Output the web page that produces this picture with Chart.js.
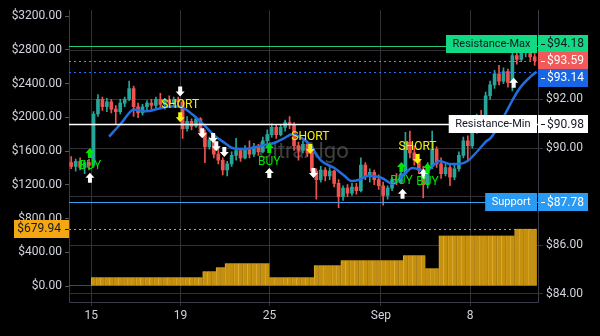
<!DOCTYPE html>
<html>
<head>
<meta charset="utf-8">
<script src="https://cdn.jsdelivr.net/npm/chart.js@4.4.1/dist/chart.umd.min.js"></script>
<style>
  html, body { margin: 0; padding: 0; background: #000; }
  #wrap { width: 600px; height: 336px; }
</style>
</head>
<body>
<div id="wrap"><canvas id="chart" width="600" height="336"></canvas></div>
<script>
// x is measured in trading days, 0 = Aug 12 open, 5 candles per day
const dayTicks = [1, 5, 9, 14, 18];
const dayLabels = ['15', '19', '25', 'Sep', '8'];
const barsPerDay = 5;

const opens = [89.40,89.25,89.45,89.20,89.40, 89.30,91.40,92.00,91.70,91.90, 91.60,91.50,91.85,92.00,92.45,
  91.70,91.45,91.70,91.85,91.75, 92.00,91.80,91.95,91.85,92.00, 91.90,90.80,91.10,90.90,91.20,
  90.65,90.05,90.35,89.75,89.50, 89.10,89.35,89.70,89.90,89.60, 89.95,89.75,90.05,89.85,90.30,
  90.55,90.85,90.55,90.85,91.05, 90.95,90.10,89.90,90.15,89.80, 89.05,88.70,89.10,88.85,89.05,
  88.55,88.00,88.35,88.15,88.40, 88.25,89.30,88.85,89.00,88.70, 88.45,88.05,88.35,88.70,88.60,
  88.95,90.25,89.80,89.50,89.10, 88.50,89.25,89.95,89.35,88.95, 89.20,88.80,89.15,89.70,90.30,
  90.10,90.75,91.25,91.10,92.15, 92.60,93.05,92.75,93.15,92.70, 93.80,93.65,93.95,94.10,93.75];
const highs = [89.65,89.55,89.60,89.50,89.55, 91.50,92.20,92.10,92.05,92.00, 91.75,92.00,92.10,92.75,92.55,
  91.85,91.80,91.95,92.00,92.10, 92.25,92.05,92.15,92.10,92.10, 91.95,91.30,91.20,91.30,91.25,
  90.75,90.45,90.40,89.95,89.60, 89.45,89.85,90.40,90.00,90.10, 90.30,90.20,90.15,90.45,90.75,
  91.00,90.95,90.95,91.15,91.30, 91.05,90.25,90.30,90.25,89.90, 89.15,89.25,89.20,89.20,89.10,
  88.70,88.45,88.50,88.55,88.55, 89.60,89.40,89.15,89.10,88.90, 88.60,88.45,88.80,88.95,89.10,
  90.65,90.70,90.10,89.75,89.25, 89.40,90.70,90.05,89.60,89.35, 89.30,89.30,89.85,90.45,90.50,
  90.90,91.40,91.55,92.30,92.75, 93.20,93.40,93.30,93.25,93.95, 94.05,94.10,94.24,94.15,93.95];
const lows = [89.15,89.05,89.10,88.95,89.10, 89.20,91.30,91.55,91.50,91.45, 91.00,91.40,91.70,91.95,91.30,
  91.25,91.35,91.55,91.60,91.65, 91.70,91.60,91.75,91.70,91.75, 90.40,90.70,90.75,90.85,90.50,
  89.40,89.95,89.60,89.35,88.90, 88.85,89.25,89.50,89.45,89.55, 89.60,89.65,89.70,89.80,90.15,
  90.45,90.40,90.50,90.70,90.80, 89.90,89.50,89.80,89.65,88.90, 87.90,88.60,88.65,88.70,88.40,
  87.55,87.85,88.00,88.05,88.10, 88.20,88.70,88.60,88.50,88.30, 87.65,87.90,88.25,88.50,88.55,
  88.90,89.60,89.30,88.95,87.95, 88.35,89.15,89.20,88.75,88.85, 88.45,88.70,89.05,89.60,89.45,
  90.00,90.60,90.95,91.05,92.00, 92.45,92.60,92.65,92.50,92.35, 93.45,93.55,93.75,93.60,93.40];
const closes = [89.25,89.45,89.20,89.40,89.30, 91.40,92.00,91.70,91.90,91.60, 91.50,91.85,92.00,92.45,91.70,
  91.45,91.70,91.85,91.75,92.00, 91.80,91.95,91.85,92.00,91.90, 90.80,91.10,90.90,91.20,90.65,
  90.05,90.35,89.75,89.50,89.10, 89.35,89.70,89.90,89.60,89.95, 89.75,90.05,89.85,90.30,90.55,
  90.85,90.55,90.85,91.05,90.95, 90.10,89.90,90.15,89.80,89.05, 88.70,89.10,88.85,89.05,88.55,
  88.00,88.35,88.15,88.40,88.25, 89.30,88.85,89.00,88.70,88.45, 88.05,88.35,88.70,88.60,88.95,
  90.25,89.80,89.50,89.10,88.50, 89.25,89.95,89.35,88.95,89.20, 88.80,89.15,89.70,90.30,90.10,
  90.75,91.25,91.10,92.15,92.60, 93.05,92.75,93.15,92.70,93.80, 93.65,93.95,94.10,93.75,93.59];

// blue moving average
const maTimes = [1.80, 2.34, 2.92, 3.46, 4.04, 4.49, 4.94, 5.53, 6.11, 6.56, 7.01, 7.33, 7.87, 8.54,
  9.17, 9.66, 10.02, 10.52, 10.79, 11.33, 11.91, 12.36, 12.67, 13.03, 13.44, 14.02, 14.52, 14.97,
  15.42, 16.04, 16.63, 17.08, 17.53, 17.89, 18.34, 18.74, 18.92, 19.33, 19.78, 20.22, 20.67, 20.99];
const maValues = [90.47, 91.02, 91.59, 91.51, 91.63, 91.71, 91.71, 91.39, 90.90, 90.49, 90.20, 90.00, 89.96, 90.08,
  90.20, 90.41, 90.57, 90.37, 90.16, 89.47, 89.18, 88.86, 88.65, 88.70, 88.86, 88.78, 88.53, 88.86,
  89.18, 89.06, 89.47, 89.35, 89.35, 89.47, 89.88, 90.29, 90.41, 90.98, 91.76, 92.45, 92.90, 93.14];

// orange step histogram on the left scale
const histStarts = [0, 1, 6, 6.6, 7, 9, 11, 12.2, 15, 16, 16.6, 20];
const histValues = [10, 106, 176, 224, 270, 106, 247, 306, 365, 212, 600, 679.94];

const resistanceMax = 94.18;
const resistanceMin = 90.98;
const supportLevel = 87.78;

// signals
const buyTimes = [0.94, 8.99, 14.92, 16.09];
const buyPrices = [89.80, 90.00, 89.22, 89.18];
const shortTimes = [4.99, 10.83, 15.64];
const shortPrices = [91.27, 89.96, 89.55];
const upTimes = [0.94, 8.99, 14.97, 15.91, 19.96];
const upPrices = [88.78, 88.98, 88.12, 88.94, 92.69];
const downTimes = [4.99, 5.98, 6.47, 6.61, 6.97, 10.97];
const downPrices = [92.33, 90.61, 90.41, 90.08, 89.84, 88.98];

const leftTicks = [0, 400, 800, 1200, 1600, 2000, 2400, 2800, 3200];
const rightTicks = [84, 86, 88, 90, 92, 94];

const UP = '#26a69a', DOWN = '#ef5350';
const FONT = 'Roboto, "Liberation Sans", sans-serif';

const candleTime = i => (i + 0.5) / barsPerDay;
const candleColors = closes.map((c, i) => c >= opens[i] ? UP : DOWN);
const wickData = closes.map((c, i) => ({ x: candleTime(i), y: [lows[i], highs[i]] }));
const bodyData = closes.map((c, i) => ({ x: candleTime(i), y: [Math.min(opens[i], c), Math.max(opens[i], c)] }));
const histData = closes.map((c, i) => {
  const t = candleTime(i);
  let v = histValues[0];
  histStarts.forEach((s, k) => { if (t >= s) v = histValues[k]; });
  return { x: t, y: v };
});
const maData = maTimes.map((t, i) => ({ x: t, y: maValues[i] }));
const lastPrice = closes[closes.length - 1];
const lastMa = maValues[maValues.length - 1];
const tagValues = [resistanceMax, lastPrice, lastMa, resistanceMin, supportLevel];

function arrow(ctx, x, y, dir, color) {
  // dir 1 = up, -1 = down; centred on x,y, 10px tall
  ctx.fillStyle = color;
  ctx.beginPath();
  ctx.moveTo(x, y - 5 * dir);
  ctx.lineTo(x + 4.5, y);
  ctx.lineTo(x + 2, y);
  ctx.lineTo(x + 2, y + 5 * dir);
  ctx.lineTo(x - 2, y + 5 * dir);
  ctx.lineTo(x - 2, y);
  ctx.lineTo(x - 4.5, y);
  ctx.closePath();
  ctx.fill();
}

function box(ctx, x, y, w, h, bg, fg, text, align, tx) {
  ctx.fillStyle = bg;
  ctx.fillRect(x, Math.round(y - h / 2), w, h);
  ctx.fillStyle = fg;
  ctx.textAlign = align;
  ctx.fillText(text, tx, y + 0.5);
}

const overlay = {
  id: 'overlay',
  beforeDatasetsDraw(chart) {
    const { ctx, chartArea: a } = chart;
    ctx.save();
    ctx.font = '22px ' + FONT;
    ctx.fillStyle = 'rgba(115,115,115,0.55)';
    ctx.textAlign = 'center';
    ctx.textBaseline = 'middle';
    ctx.fillText('UltraAlgo', (a.left + a.right) / 2, (a.top + a.bottom) / 2 - 4);
    ctx.restore();
  },
  afterDatasetsDraw(chart) {
    const { ctx, chartArea: a, scales } = chart;
    const x = scales.x, yR = scales.yR, yL = scales.yL;
    ctx.save();
    ctx.beginPath();
    ctx.rect(a.left, a.top, a.right - a.left, a.bottom - a.top);
    ctx.clip();

    const hline = (y, color, dash, width) => {
      ctx.strokeStyle = color;
      ctx.lineWidth = width;
      ctx.setLineDash(dash);
      ctx.beginPath();
      ctx.moveTo(a.left, Math.round(y) + 0.5);
      ctx.lineTo(a.right, Math.round(y) + 0.5);
      ctx.stroke();
    };
    hline(yR.getPixelForValue(resistanceMax), '#26c97a', [], 1);
    hline(yR.getPixelForValue(lastPrice), '#f25a5a', [2, 3], 1);
    hline(yR.getPixelForValue(lastMa), '#2a6ff0', [2, 3], 1);
    hline(yR.getPixelForValue(resistanceMin), '#ffffff', [], 1.5);
    hline(yR.getPixelForValue(supportLevel), '#3d9fef', [], 1);
    hline(yL.getPixelForValue(histValues[histValues.length - 1]), '#e6a01c', [2, 3], 1);
    ctx.setLineDash([]);

    ctx.font = '12px ' + FONT;
    ctx.textAlign = 'center';
    ctx.textBaseline = 'middle';
    upTimes.forEach((t, i) => arrow(ctx, x.getPixelForValue(t), yR.getPixelForValue(upPrices[i]), 1, '#ffffff'));
    downTimes.forEach((t, i) => arrow(ctx, x.getPixelForValue(t), yR.getPixelForValue(downPrices[i]), -1, '#ffffff'));
    buyTimes.forEach((t, i) => {
      const px = x.getPixelForValue(t), py = yR.getPixelForValue(buyPrices[i]);
      arrow(ctx, px, py, 1, '#00e600');
      ctx.fillStyle = '#00e600';
      ctx.fillText('BUY', px, py + 13.5);
    });
    shortTimes.forEach((t, i) => {
      const px = x.getPixelForValue(t), py = yR.getPixelForValue(shortPrices[i]);
      arrow(ctx, px, py, -1, '#f2f20a');
      ctx.fillStyle = '#f2f20a';
      ctx.fillText('SHORT', px, py - 12.5);
    });
    ctx.restore();
  },
  afterDraw(chart) {
    const { ctx, chartArea: a, scales } = chart;
    const yR = scales.yR, yL = scales.yL;
    const h = 18, gap = 17;
    ctx.save();
    ctx.textBaseline = 'middle';

    // right axis price boxes; last price stays put, neighbours are pushed away
    const tags = [
      { v: resistanceMax, bg: '#12d983', fg: '#131722', name: 'Resistance-Max' },
      { v: lastPrice, bg: '#f25a5a', fg: '#ffffff', fixed: true },
      { v: lastMa, bg: '#1766e6', fg: '#ffffff' },
      { v: resistanceMin, bg: '#ffffff', fg: '#131722', name: 'Resistance-Min' },
      { v: supportLevel, bg: '#2a9af2', fg: '#ffffff', name: 'Support' }
    ];
    tags.forEach(t => { t.y = yR.getPixelForValue(t.v); });
    tags.sort((p, q) => p.y - q.y);
    const f = tags.findIndex(t => t.fixed);
    for (let i = f - 1; i >= 0; i--) tags[i].y = Math.min(tags[i].y, tags[i + 1].y - gap);
    for (let i = f + 1; i < tags.length; i++) tags[i].y = Math.max(tags[i].y, tags[i - 1].y + gap);

    tags.forEach(t => {
      ctx.font = '12px ' + FONT;
      box(ctx, a.right, t.y, 50, h, t.bg, t.fg, '$' + t.v.toFixed(2), 'left', a.right + 9);
      ctx.fillRect(a.right + 3, Math.round(t.y), 4, 1);
      if (t.name) {
        ctx.font = '11px ' + FONT;
        const w = ctx.measureText(t.name).width + 13;
        box(ctx, a.right - 1 - w, t.y, w, h, t.bg, t.fg, t.name, 'center', a.right - 1 - w / 2);
      }
    });

    // left axis histogram value
    ctx.font = '12px ' + FONT;
    const hv = histValues[histValues.length - 1];
    const hy = yL.getPixelForValue(hv);
    box(ctx, 14, hy, a.left - 14, h, '#f3a712', '#131722', '$' + hv.toFixed(2), 'right', a.left - 8);
    ctx.fillRect(a.left - 4, Math.round(hy), 4, 1);
    ctx.restore();
  }
};

const gridColor = '#303036';
const tickFont = { family: FONT, size: 12 };

new Chart(document.getElementById('chart'), {
  type: 'bar',
  data: {
    datasets: [
      {
        type: 'line', data: maData, yAxisID: 'yR', borderColor: '#1f6fe0', borderWidth: 2.5,
        pointRadius: 0, cubicInterpolationMode: 'monotone', order: 0
      },
      {
        data: bodyData, yAxisID: 'yR', backgroundColor: candleColors, barThickness: 3,
        minBarLength: 1, grouped: false, order: 1
      },
      {
        data: wickData, yAxisID: 'yR', backgroundColor: candleColors, barThickness: 1,
        grouped: false, order: 2
      },
      {
        data: histData, yAxisID: 'yL', backgroundColor: '#c4900e', borderColor: '#e0aa2e',
        borderWidth: { left: 1, right: 0, top: 0, bottom: 0 }, borderSkipped: false,
        barPercentage: 1, categoryPercentage: 1, grouped: false, order: 3
      }
    ]
  },
  options: {
    responsive: false,
    animation: false,
    layout: { padding: { top: 8, left: 0, right: 0, bottom: 0 } },
    plugins: { legend: { display: false }, tooltip: { enabled: false } },
    scales: {
      x: {
        type: 'linear', min: 0, max: 21.05, offset: false,
        afterBuildTicks: s => { s.ticks = dayTicks.map(v => ({ value: v })); },
        afterFit: s => { s.height = 34; },
        ticks: {
          callback: (v, i) => dayLabels[i], color: '#d1d4dc', font: tickFont,
          padding: 3, maxRotation: 0, autoSkip: false
        },
        grid: { color: gridColor, tickLength: 4, offset: false },
        border: { color: '#3a3a48' }
      },
      yR: {
        position: 'right', min: 83.67, max: 95.67,
        afterBuildTicks: s => { s.ticks = rightTicks.map(v => ({ value: v })); },
        afterFit: s => { s.width = 62; },
        ticks: {
          // labels that sit under a price tag are left out
          callback: v => tagValues.some(t => Math.abs(t - v) < 0.5) ? '' : '$' + v.toFixed(2),
          color: '#d1d4dc', font: tickFont, padding: 3
        },
        grid: { color: gridColor, tickLength: 5 },
        border: { color: '#3a3a48' }
      },
      yL: {
        position: 'left', min: -188, max: 3270,
        afterBuildTicks: s => { s.ticks = leftTicks.map(v => ({ value: v })); },
        afterFit: s => { s.width = 69; },
        ticks: { callback: v => '$' + v.toFixed(2), color: '#d1d4dc', font: tickFont, padding: 3 },
        grid: { drawOnChartArea: false, color: '#55555e', tickLength: 4 },
        border: { color: '#3a3a48' }
      }
    }
  },
  plugins: [overlay]
});
</script>
</body>
</html>
